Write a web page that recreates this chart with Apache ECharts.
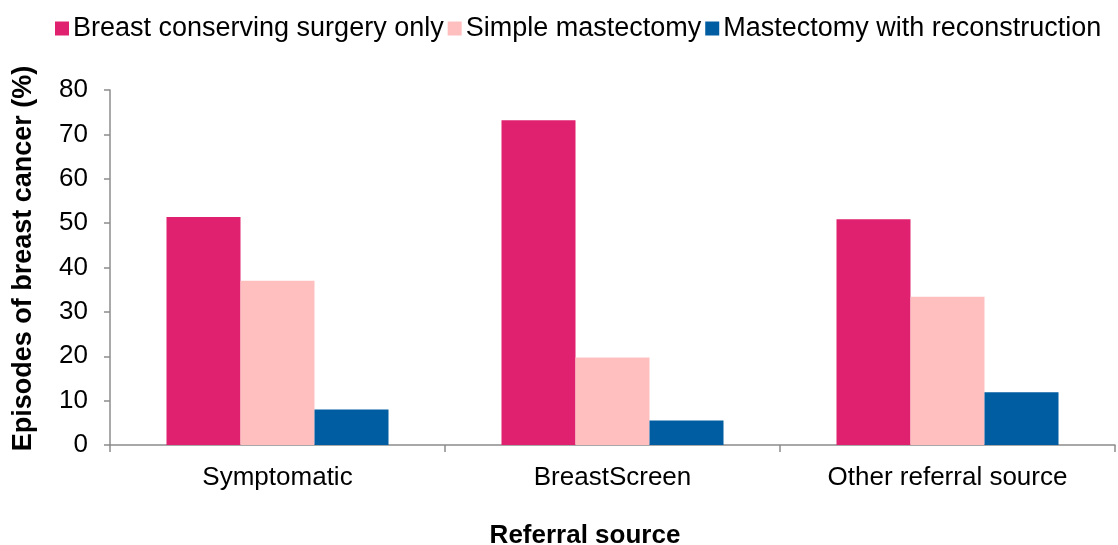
<!DOCTYPE html>
<html>
<head>
<meta charset="utf-8">
<script src="https://cdn.jsdelivr.net/npm/echarts@6/dist/echarts.min.js"></script>
<style>
  html, body { margin: 0; padding: 0; background: #fff; }
  #chart { width: 1118px; height: 545px; }
</style>
</head>
<body>
<div id="chart"></div>
<script>
// Referral sources on the category axis
const categories = ['Symptomatic', 'BreastScreen', 'Other referral source'];

// Share of breast cancer episodes (%) by surgery type
const seriesNames = ['Breast conserving surgery only', 'Simple mastectomy', 'Mastectomy with reconstruction'];
const conservingOnly = [51.4, 73.2, 50.9];
const simpleMastectomy = [37.0, 19.7, 33.4];
const withReconstruction = [8.0, 5.5, 11.9];

const colors = ['#E0216F', '#FFBFBF', '#005DA2'];
const font = '"Liberation Sans", Arial, sans-serif';

const chart = echarts.init(document.getElementById('chart'), null, { renderer: 'canvas' });

const values = [conservingOnly, simpleMastectomy, withReconstruction];

chart.setOption({
  animation: false,
  textStyle: { fontFamily: font },
  legend: {
    top: 10,
    left: 50,
    itemWidth: 14,
    itemHeight: 14,
    itemGap: 4,
    icon: 'rect',
    textStyle: { fontSize: 27, color: '#000', fontFamily: font, padding: [0, 0, 0, -1] },
    data: seriesNames
  },
  grid: { left: 110, right: 3, top: 90, bottom: 100, containLabel: false, outerBoundsMode: 'none' },
  xAxis: {
    type: 'category',
    data: categories,
    name: 'Referral source',
    nameLocation: 'middle',
    nameGap: 78,
    nameTextStyle: { fontSize: 26, fontWeight: 'bold', color: '#000', fontFamily: font, padding: [0, 55, 0, 0] },
    axisLine: { lineStyle: { color: '#8C8C8C', width: 1.5 } },
    axisTick: { show: true, length: 7, lineStyle: { color: '#8C8C8C', width: 1.5 } },
    axisLabel: { fontSize: 26, color: '#000', margin: 20, fontFamily: font }
  },
  yAxis: {
    type: 'value',
    min: 0,
    max: 80,
    interval: 10,
    name: 'Episodes of breast cancer (%)',
    nameLocation: 'middle',
    nameGap: 73,
    nameTextStyle: { fontSize: 27, fontWeight: 'bold', color: '#000', fontFamily: font, padding: [0, 0, 0, 18] },
    axisLine: { show: true, lineStyle: { color: '#8C8C8C', width: 1.5 } },
    axisTick: { show: true, length: 6, lineStyle: { color: '#8C8C8C', width: 1.5 } },
    splitLine: { show: false },
    axisLabel: { fontSize: 26, color: '#000', margin: 22, fontFamily: font }
  },
  series: seriesNames.map((name, i) => ({
    name: name,
    type: 'bar',
    data: values[i],
    barWidth: 74,
    barGap: '0%',
    itemStyle: { color: colors[i] }
  }))
});
</script>
</body>
</html>
